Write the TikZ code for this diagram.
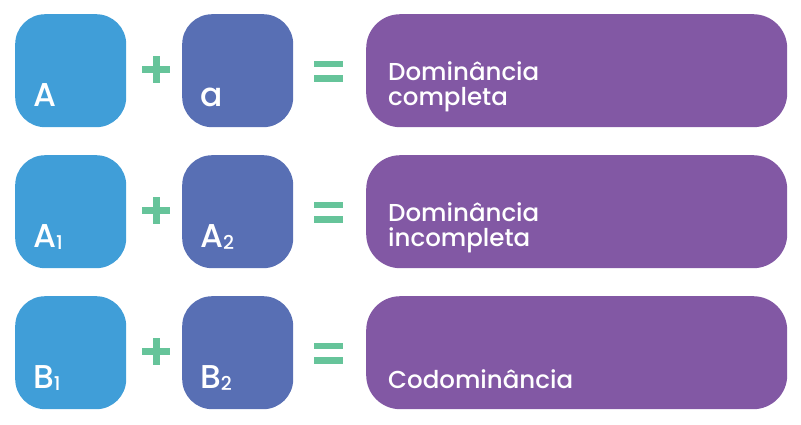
\documentclass[tikz,border=0pt]{standalone}
\usepackage{fontspec}
\setmainfont{Poppins}[UprightFont={* Medium}]
\definecolor{cblue}{RGB}{64,158,216}
\definecolor{cindigo}{RGB}{88,111,180}
\definecolor{cpurple}{RGB}{130,88,164}
\definecolor{cgreen}{RGB}{102,196,154}
\tikzset{
  sq/.style={rectangle, rounded corners=30pt, minimum width=111pt, minimum height=113pt, inner sep=0pt, anchor=north west},
  wide/.style={rectangle, rounded corners=34pt, minimum width=421pt, minimum height=113pt, inner sep=0pt, anchor=north west, fill=cpurple},
  gl/.style={text=white, anchor=base west, inner sep=0pt, font=\fontsize{33}{33}\selectfont},
  tl/.style={text=white, anchor=base west, inner sep=0pt, align=left, font=\fontsize{24.5}{25.5}\selectfont},
  sym/.style={fill=cgreen}
}
\newcommand{\sbs}[1]{\raisebox{-2pt}{\fontsize{19}{19}\selectfont #1}}
\begin{document}
\begin{tikzpicture}[x=1pt,y=-1pt]
\useasboundingbox (0,0) rectangle (801,424);
\foreach \r/\t in {0/14,1/155,2/296}{
  \node[sq, fill=cblue] (b\r) at (15,\t) {};
  \node[sq, fill=cindigo] (c\r) at (182,\t) {};
  \node[wide] (p\r) at (366,\t) {};
  \fill[sym] (142,\t+52) rectangle (170,\t+59);
  \fill[sym] (152.5,\t+42) rectangle (159.5,\t+69);
  \fill[sym] (314,\t+46.5) rectangle (343,\t+53);
  \fill[sym] (314,\t+60.5) rectangle (343,\t+67.5);
}
\node[gl] (t1) at (33,106) {A};
\node[gl] (t2) at (200,106) {a};
\node[gl] (t3) at (33,247) {A\sbs{1}};
\node[gl] (t4) at (200,247) {A\sbs{2}};
\node[gl] (t5) at (33,388) {B\sbs{1}};
\node[gl] (t6) at (200,388) {B\sbs{2}};
\node[tl] (d1) at (388,105.5) {Dominância\\completa};
\node[tl] (d2) at (388,246.5) {Dominância\\incompleta};
\node[tl] (d3) at (388,388) {Codominância};
\end{tikzpicture}
\end{document}
